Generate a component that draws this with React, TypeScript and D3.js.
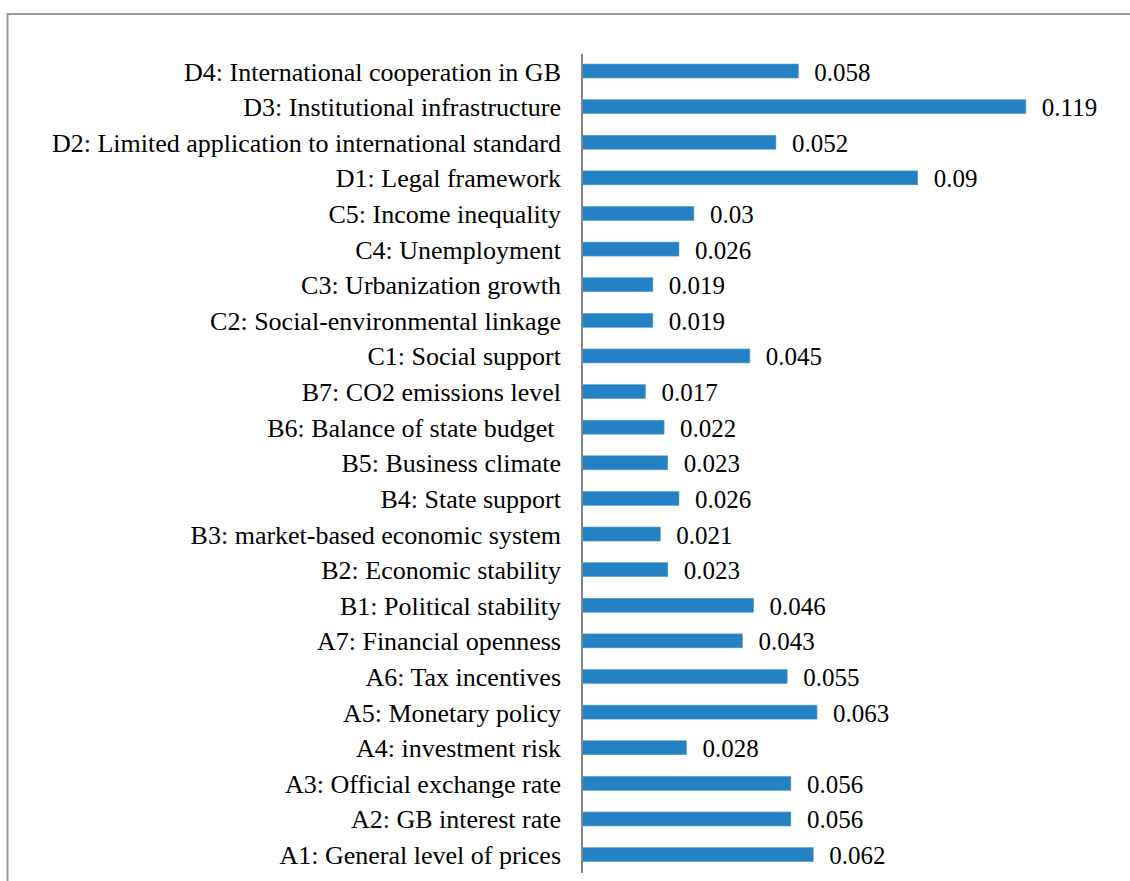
import React, { useEffect, useRef } from 'react';
import * as d3 from 'd3';

// categories, top to bottom
const labels = [
  'D4: International cooperation in GB',
  'D3: Institutional infrastructure',
  'D2: Limited application to international standard',
  'D1: Legal framework',
  'C5: Income inequality',
  'C4: Unemployment',
  'C3: Urbanization growth',
  'C2: Social-environmental linkage',
  'C1: Social support',
  'B7: CO2 emissions level',
  'B6: Balance of state budget ',
  'B5: Business climate',
  'B4: State support',
  'B3: market-based economic system',
  'B2: Economic stability',
  'B1: Political stability',
  'A7: Financial openness',
  'A6: Tax incentives',
  'A5: Monetary policy',
  'A4: investment risk',
  'A3: Official exchange rate',
  'A2: GB interest rate',
  'A1: General level of prices',
];

const weights = [
  0.058, 0.119, 0.052, 0.09, 0.03, 0.026, 0.019, 0.019, 0.045, 0.017, 0.022, 0.023,
  0.026, 0.021, 0.023, 0.046, 0.043, 0.055, 0.063, 0.028, 0.056, 0.056, 0.062,
];

const W = 1130;
const H = 881;

const WeightChart = () => {
  const ref = useRef<SVGSVGElement>(null);

  useEffect(() => {
    const svg = d3.select(ref.current);
    svg.selectAll('*').remove();

    const font = 'Liberation Serif, Tinos, DejaVu Serif, serif';
    const data = labels.map((l, i) => ({ label: l, value: weights[i] }));

    // chart frame (only top and left edges are visible)
    svg.append('path')
      .attr('d', `M7.5,${H} L7.5,14 L${W},14`)
      .attr('fill', 'none')
      .attr('stroke', '#9a9a9a')
      .attr('stroke-width', 2);

    const x = d3.scaleLinear()
      .domain([0, 0.12])
      .range([582, 582 + 0.12 * 3730]);

    const y = d3.scaleBand()
      .domain(labels)
      .range([53.2, 872.4])
      .paddingInner(0.607)
      .paddingOuter(0.3035);

    svg.append('g')
      .selectAll('rect')
      .data(data)
      .join('rect')
      .attr('x', x(0))
      .attr('y', d => y(d.label)!)
      .attr('width', d => x(d.value) - x(0))
      .attr('height', y.bandwidth())
      .attr('fill', '#2481c3')
      .attr('stroke', '#5da0d6')
      .attr('stroke-width', 0.6);

    // value labels
    svg.append('g')
      .selectAll('text')
      .data(data)
      .join('text')
      .attr('x', d => x(d.value) + 16)
      .attr('y', d => y(d.label)! + y.bandwidth() / 2 + 9.5)
      .style('font-family', font)
      .style('font-size', '25px')
      .attr('fill', '#000')
      .text(d => String(d.value));

    // category axis
    svg.append('line')
      .attr('x1', x(0))
      .attr('x2', x(0))
      .attr('y1', 54)
      .attr('y2', 873)
      .attr('stroke', '#868686')
      .attr('stroke-width', 2);

    svg.append('g')
      .selectAll('text')
      .data(data)
      .join('text')
      .attr('x', 561)
      .attr('y', d => y(d.label)! + y.bandwidth() / 2 + 9.5)
      .attr('text-anchor', 'end')
      .style('font-family', font)
      .style('font-size', '26px')
      .attr('fill', '#000')
      .style('white-space', 'pre')
      .text(d => d.label);
  }, []);

  return (
    <svg
      ref={ref}
      width={W}
      height={H}
      style={{ position: 'absolute', left: 0, top: 0, background: '#fff' }}
    ></svg>
  );
};

export default function App() {
  return <WeightChart />;
}
